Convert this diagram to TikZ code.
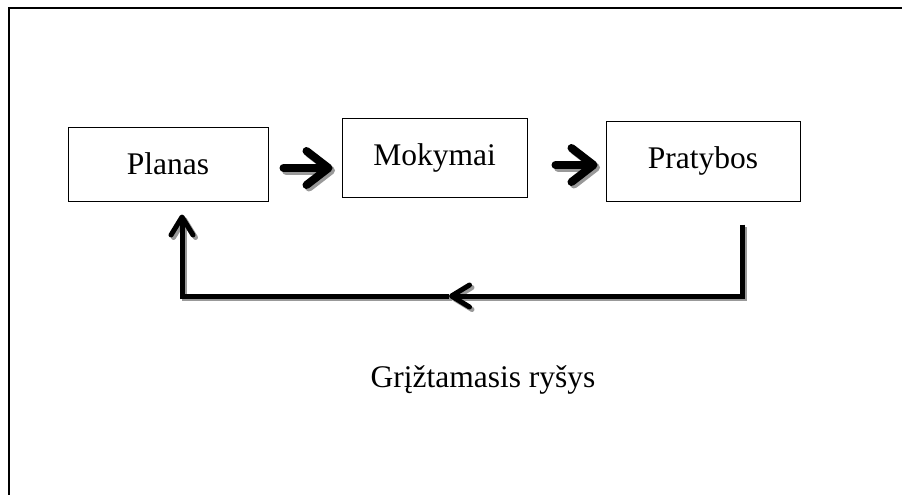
\documentclass[tikz,border=0pt]{standalone}
\usepackage{fontspec}
\setmainfont{Liberation Serif}
\usetikzlibrary{arrows.meta}
% all arrows of the diagram, drawn in the colour given
\newcommand\drawflows[1]{%
  \draw[blockarrow, #1, shorten >=9pt] (a1) -- (a1 -| mokymai.west);
  \draw[blockarrow, #1, shorten >=8pt] (a2) -- (a2 -| pratybos.west);
  \draw[feedback, #1] (fb0) -- (fb0 |- fbmid) -- (fbmid);
  \draw[feedback, #1] (fbmid) -- (fbend |- fbmid) -- (fbend);
}
\begin{document}
\begin{tikzpicture}[x=1pt,y=-1pt,
  box/.style={draw, line width=1pt, inner sep=0pt, font=\fontsize{31.5}{36}\selectfont},
  blockarrow/.style={line width=8pt, line cap=round,
    -{Straight Barb[length=22pt,width=34pt,round]}},
  feedback/.style={line width=5pt, line join=miter,
    -{Straight Barb[length=18pt,width=22pt,round]}}
]
\useasboundingbox (0,0) rectangle (902,495);
% page frame
\draw[line width=2pt] (9.3,495) -- (9.3,7.7) -- (902,7.7);

% stages
\node[box, minimum width=200pt, minimum height=74pt] (planas) at (168,164) {Planas};
\node[box, minimum width=185pt, minimum height=79pt] (mokymai) at (434.5,157.5) {Mokymai};
\node[box, minimum width=194pt, minimum height=80pt] (pratybos) at (703,161) {Pratybos};

% anchor points of the arrows
\coordinate (a1) at ([shift={(15,4)}]planas.east);
\coordinate (a2) at ([shift={(28,7.5)}]mokymai.east);
\coordinate (fb0) at ([shift={(39,23)}]pratybos.south);
\coordinate (fbmid) at (449,296);
\coordinate (fbend) at ([shift={(14,13)}]planas.south);

% grey drop shadow, then the arrows themselves
\begin{scope}[transform canvas={shift={(2.5,2.5)}}]
  \drawflows{black!40}
\end{scope}
\drawflows{black}

\node[font=\fontsize{31.5}{36}\selectfont] (label) at (483,380) {Grįžtamasis ryšys};
\end{tikzpicture}
\end{document}
